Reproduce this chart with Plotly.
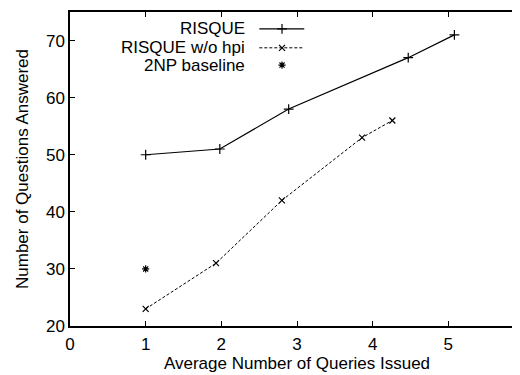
import plotly.graph_objects as go

# Data
risque_x = [1.0, 1.98, 2.89, 4.47, 5.08]
risque_y = [50, 51, 58, 67, 71]
nohpi_x = [1.0, 1.93, 2.80, 3.86, 4.26]
nohpi_y = [23, 31, 42, 53, 56]
base_x = [1.0]
base_y = [30]
x_ticks = [0, 1, 2, 3, 4, 5, 6]
y_ticks = [20, 30, 40, 50, 60, 70]
legend_names = ["RISQUE", "RISQUE w/o hpi", "2NP baseline"]

FONT = "Liberation Sans, Arial, sans-serif"
FS = 17
C = "#000000"

m_plus = dict(symbol="cross-thin", size=7, line=dict(color=C, width=1.2))
m_x = dict(symbol="x-thin", size=6, line=dict(color=C, width=1.2))
m_ast = dict(symbol="asterisk", size=6, line=dict(color=C, width=1.2))
l_solid = dict(color=C, width=1.2)
l_dash = dict(color=C, width=1, dash="3px,2px")

fig = go.Figure()
fig.add_trace(go.Scatter(x=risque_x, y=risque_y, mode="lines+markers",
                         line=l_solid, marker=m_plus, showlegend=False))
fig.add_trace(go.Scatter(x=nohpi_x, y=nohpi_y, mode="lines+markers",
                         line=l_dash, marker=m_x, showlegend=False))
fig.add_trace(go.Scatter(x=base_x, y=base_y, mode="markers",
                         marker=m_ast, showlegend=False))

# gnuplot-style legend (text, then sample) on an overlay unit axis
rows = [0.946, 0.886, 0.831]
samples = [(l_solid, m_plus), (l_dash, m_x), (None, m_ast)]
for name, ry, (ln, mk) in zip(legend_names, rows, samples):
    if ln is not None:
        fig.add_trace(go.Scatter(x=[0.417, 0.516], y=[ry, ry], xaxis="x2", yaxis="y2",
                                 mode="lines", line=ln, showlegend=False, hoverinfo="skip"))
    fig.add_trace(go.Scatter(x=[0.467], y=[ry], xaxis="x2", yaxis="y2",
                             mode="markers", marker=mk, showlegend=False, hoverinfo="skip"))
    fig.add_annotation(x=0.390, y=ry, xref="x2", yref="y2", text=name,
                       showarrow=False, xanchor="right", yanchor="middle",
                       font=dict(family=FONT, size=FS, color=C))

axis_common = dict(showline=True, linecolor=C, linewidth=1.5, mirror="ticks",
                   ticks="inside", ticklen=5, tickcolor=C, tickwidth=1,
                   showgrid=False, zeroline=False, automargin=False,
                   tickfont=dict(family=FONT, size=FS, color=C))
fig.update_layout(
    width=520, height=375,
    margin=dict(l=62, r=4, t=4, b=57, autoexpand=False),
    plot_bgcolor="white", paper_bgcolor="white",
    font=dict(family=FONT, size=FS, color=C),
    xaxis=dict(range=[0, 6], tickvals=x_ticks, ticklabelstandoff=2,
               title=dict(text="Average Number of Queries Issued", standoff=4,
                          font=dict(family=FONT, size=FS, color=C)),
               **axis_common),
    yaxis=dict(range=[20, 75], tickvals=y_ticks,
               title=dict(text="Number of Questions Answered", standoff=13,
                          font=dict(family=FONT, size=FS, color=C)),
               **axis_common),
    xaxis2=dict(overlaying="x", range=[0, 1], visible=False, automargin=False),
    yaxis2=dict(overlaying="y", range=[0, 1], visible=False, automargin=False),
)

fig.write_html("out.html")
